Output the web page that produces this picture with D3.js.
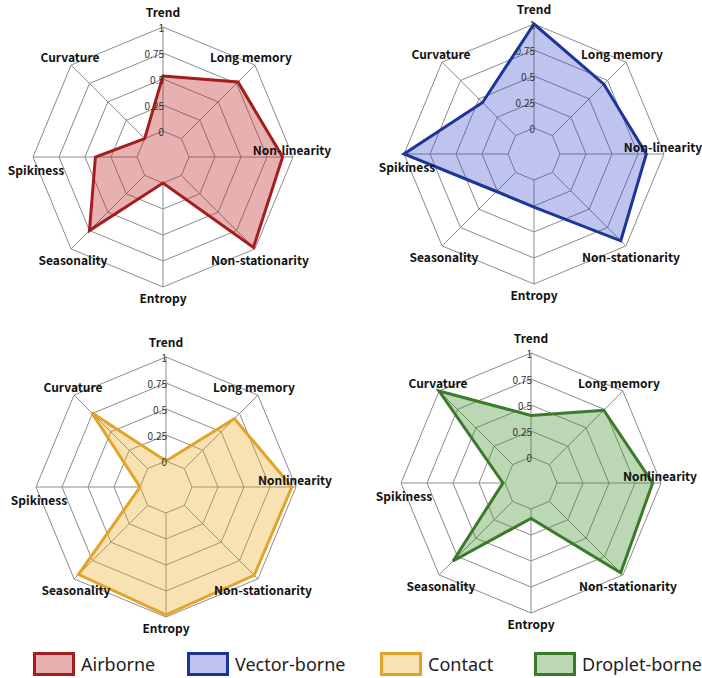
<!DOCTYPE html>
<html>
<head>
<meta charset="utf-8">
<script src="https://cdn.jsdelivr.net/npm/d3@7"></script>
<style>
  body { margin: 0; background: #fff; }
  svg { display: block; }
</style>
</head>
<body>
<script>
// axis names (bottom row spells Nonlinearity without hyphen)
var axesTop = ["Trend", "Long memory", "Non-linearity", "Non-stationarity", "Entropy", "Seasonality", "Spikiness", "Curvature"];
var axesBottom = ["Trend", "Long memory", "Nonlinearity", "Non-stationarity", "Entropy", "Seasonality", "Spikiness", "Curvature"];

var tickValues = [0, 0.25, 0.5, 0.75, 1];
var tickLabels = ["0", "0.25", "0.5", "0.75", "1"];

// values per axis, same order as the axis names
var airborne = [0.53, 0.77, 0.90, 0.98, 0.00, 0.75, 0.40, 0.00];
var vectorBorne = [1.00, 0.70, 0.83, 0.93, 0.26, 0.26, 1.00, 0.45];
var contact = [0.00, 0.68, 0.96, 0.95, 0.98, 0.94, 0.00, 0.76];
var dropletBorne = [0.40, 0.74, 0.92, 0.97, 0.09, 0.81, 0.02, 1.00];

var groups = ["Airborne", "Vector-borne", "Contact", "Droplet-borne"];
var strokeColors = ["#a51d1d", "#1d3597", "#e2a428", "#3b7a2a"];
var fillColors = ["rgba(190,40,40,0.36)", "rgba(40,60,200,0.3)", "rgba(235,165,20,0.33)", "rgba(60,140,40,0.35)"];

var width = 702, height = 678;
var R = 130, r0 = 26;

var svg = d3.select("body").append("svg")
    .attr("width", width)
    .attr("height", height);

svg.append("rect").attr("width", width).attr("height", height).attr("fill", "#fff");

var rScale = d3.scaleLinear().domain([0, 1]).range([r0, R]);

// angle of axis i, Trend at top, clockwise
function angle(i) { return -Math.PI / 2 + i * Math.PI / 4; }

// label nudges around each chart (layout only)
var labelPos = [[0, -146], [88, -101], [129, -8], [97, 102], [0, 140], [-90, 102], [-127, 12], [-93, -101]];

var panels = [
  {cx: 163, cy: 157, values: airborne, axes: axesTop, k: 0},
  {cx: 534, cy: 154, values: vectorBorne, axes: axesTop, k: 1},
  {cx: 166, cy: 487, values: contact, axes: axesBottom, k: 2},
  {cx: 531, cy: 483, values: dropletBorne, axes: axesBottom, k: 3}
];

var line = d3.lineRadial()
    .angle(function (d, i) { return i * Math.PI / 4; })
    .radius(function (d) { return rScale(d); })
    .curve(d3.curveLinearClosed);

panels.forEach(function (p) {
  var g = svg.append("g").attr("transform", "translate(" + p.cx + "," + p.cy + ")");

  // rings
  g.selectAll("path.ring")
    .data(tickValues)
    .enter().append("path")
    .attr("class", "ring")
    .attr("d", function (t) { return line(d3.range(8).map(function () { return t; })); })
    .attr("fill", "none")
    .attr("stroke", "#8c8c8c")
    .attr("stroke-width", 1);

  // spokes
  g.selectAll("line.spoke")
    .data(d3.range(8))
    .enter().append("line")
    .attr("class", "spoke")
    .attr("x1", function (i) { return rScale(0) * Math.cos(angle(i)); })
    .attr("y1", function (i) { return rScale(0) * Math.sin(angle(i)); })
    .attr("x2", function (i) { return rScale(1) * Math.cos(angle(i)); })
    .attr("y2", function (i) { return rScale(1) * Math.sin(angle(i)); })
    .attr("stroke", "#8c8c8c")
    .attr("stroke-width", 1);

  // data polygon
  g.append("path")
    .attr("d", line(p.values))
    .attr("fill", fillColors[p.k])
    .attr("stroke", strokeColors[p.k])
    .attr("stroke-width", 3)
    .attr("stroke-linejoin", "miter");

  // tick labels along the Trend axis
  g.selectAll("text.tick")
    .data(tickValues)
    .enter().append("text")
    .attr("class", "tick")
    .attr("x", 1)
    .attr("y", function (t) { return -rScale(t); })
    .attr("text-anchor", "end")
    .attr("dominant-baseline", "central")
    .style("font-family", "'Noto Sans CJK SC', 'Noto Sans', sans-serif")
    .style("font-size", "10px")
    .style("fill", "#333")
    .text(function (t, i) { return tickLabels[i]; });

  // axis labels
  g.selectAll("text.axis")
    .data(p.axes)
    .enter().append("text")
    .attr("class", "axis")
    .attr("x", function (d, i) { return labelPos[i][0]; })
    .attr("y", function (d, i) { return labelPos[i][1]; })
    .attr("text-anchor", "middle")
    .attr("dominant-baseline", "central")
    .style("font-family", "'Noto Sans CJK SC', 'Noto Sans', sans-serif")
    .style("font-size", "12px")
    .style("font-weight", 600)
    .style("fill", "#111")
    .text(function (d) { return d; });
});

// legend
var legendX = [33, 187, 380, 534];
var legend = svg.append("g").attr("class", "legend");
var ly = 652;
groups.forEach(function (name, k) {
  legend.append("rect")
    .attr("x", legendX[k] + 1.5)
    .attr("y", ly + 1.5)
    .attr("width", 39)
    .attr("height", 21)
    .attr("fill", fillColors[k])
    .attr("stroke", strokeColors[k])
    .attr("stroke-width", 3);
  legend.append("text")
    .attr("x", legendX[k] + 48)
    .attr("y", ly + 12)
    .attr("dominant-baseline", "central")
    .style("font-family", "'Noto Sans', sans-serif")
    .style("font-size", "18px")
    .style("fill", "#222")
    .text(name);
});
</script>
</body>
</html>
